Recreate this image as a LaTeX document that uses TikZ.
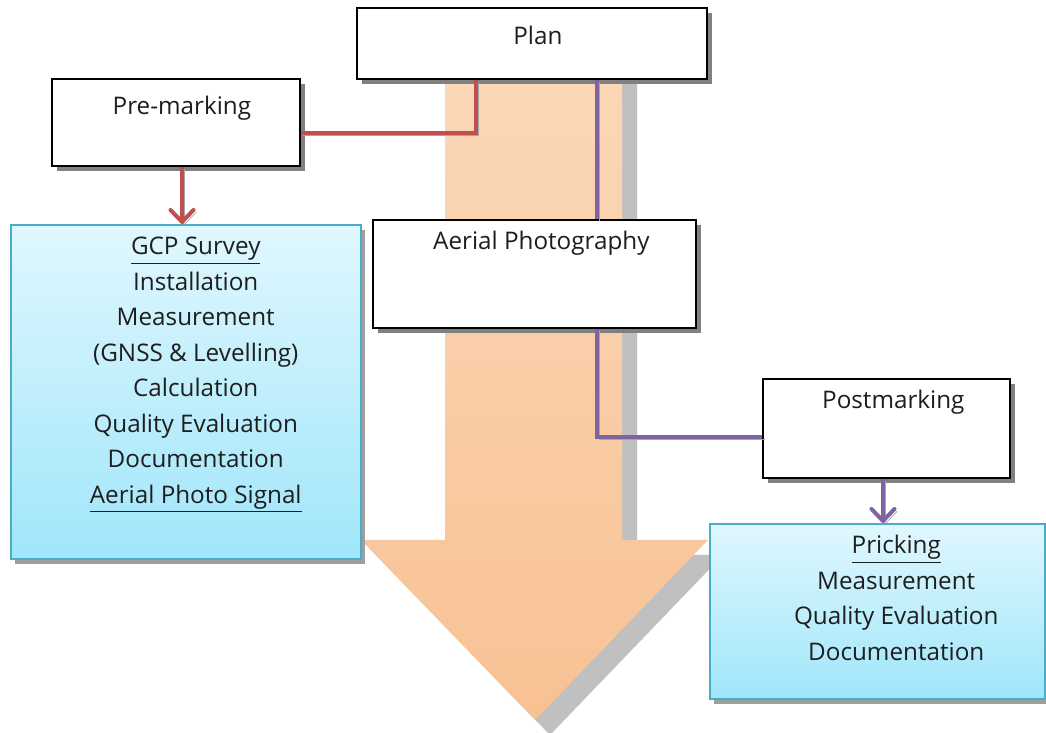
\documentclass[tikz,border=0pt]{standalone}
\usepackage{fontspec}
\setmainfont{Open Sans}
\usepackage{tikz}
\usetikzlibrary{arrows.meta,shadows,calc}
\definecolor{preInk}{RGB}{192,80,77}
\definecolor{postInk}{RGB}{128,100,162}
\definecolor{taskInk}{RGB}{75,172,198}
\definecolor{taskTop}{RGB}{224,247,254}
\definecolor{taskBot}{RGB}{160,230,250}
\definecolor{flowTop}{RGB}{251,216,184}
\definecolor{flowBot}{RGB}{248,193,148}
\definecolor{flowShd}{RGB}{192,192,192}
\definecolor{txtInk}{RGB}{30,30,30}
% text in the boxes sits a bit right of the box centre
\newlength\gapw
\newcommand\gp{\hspace*{\gapw}}

\begin{document}
\begin{tikzpicture}[x=0.02cm, y=-0.02cm,
  font=\fontsize{13.8}{20.2}\selectfont,
  stage/.style={draw=black, line width=1pt, fill=white, anchor=north west, align=center,
                inner ysep=0pt, text=txtInk,
                drop shadow={shadow xshift=0.1cm, shadow yshift=-0.1cm, fill=black!50, opacity=1}},
  task/.style ={draw=taskInk, line width=.9pt, top color=taskTop, bottom color=taskBot,
                anchor=north west, align=center, inner ysep=0pt, text=txtInk,
                drop shadow={shadow xshift=0.08cm, shadow yshift=-0.1cm, fill=black!38, opacity=1}},
  gap/.style  ={execute at begin node={\global\gapw=#1\relax}},
  link/.style ={line width=2.3pt,
                preaction={draw=black!35, transform canvas={shift={(0.05cm,-0.05cm)}}}},
  tip/.style  ={-{Straight Barb[length=2.4mm,width=4.6mm,round]}},
]
\useasboundingbox (0,0) rectangle (1046,733);

% ============ MAIN FLOW ARROW ============
\fill[flowShd] (460,75) -- (637,75) -- (637,555) -- (723,555) -- (550,735) -- (376,555) -- (460,555) -- cycle;
\shade[top color=flowTop, bottom color=flowBot]
  (445,60) -- (622,60) -- (622,540) -- (708,540) -- (535,720) -- (361,540) -- (445,540) -- cycle;

% ============ STAGES ============
\node[stage, gap=0.24cm, minimum width=7cm, text height=0.74cm, text depth=0.68cm] (plan) at (356,7) {\gp Plan};
\node[stage, gap=0.24cm, minimum width=4.96cm, text height=0.72cm, text depth=1.02cm] (premark) at (51,78) {\gp Pre-marking};
\node[stage, gap=0.28cm, minimum width=6.46cm, text height=0.6cm, text depth=1.56cm] (aerial) at (372,219) {\gp Aerial Photography};
\node[stage, gap=0.28cm, minimum width=4.94cm, text height=0.6cm, text depth=1.38cm] (postmark) at (762,378) {\gp Postmarking};

% ============ TASK LISTS ============
\node[task, gap=0.4cm, minimum width=7cm, text height=5.57cm, text depth=1.11cm] (gcp) at (10,224)
  {\gp\underline{GCP Survey}\\\gp Installation\\\gp Measurement\\\gp (GNSS \& Levelling)\\\gp Calculation\\
   \gp Quality Evaluation\\\gp Documentation\\\gp\underline{Aerial Photo Signal}};
\node[task, gap=0.76cm, minimum width=6.7cm, text height=2.73cm, text depth=0.77cm] (pricking) at (709,523)
  {\gp\underline{Pricking}\\\gp Measurement\\\gp Quality Evaluation\\\gp Documentation};

% ============ CONNECTORS ============
\coordinate (rbend) at (476,133);
\coordinate (rdown) at (182,0);
\coordinate (pv)    at (597,437);
\coordinate (pdown) at (883,0);

\draw[link, preInk] (plan.south -| rbend) -- (rbend) -- (premark.east |- rbend);
\draw[link, preInk, tip] (premark.south -| rdown) -- (gcp.north -| rdown);
\draw[link, postInk] (plan.south -| pv) -- (aerial.north -| pv);
\draw[link, postInk] (aerial.south -| pv) -- (pv) -- (postmark.west |- pv);
\draw[link, postInk, tip] (postmark.south -| pdown) -- (pricking.north -| pdown);

\end{tikzpicture}
\end{document}
